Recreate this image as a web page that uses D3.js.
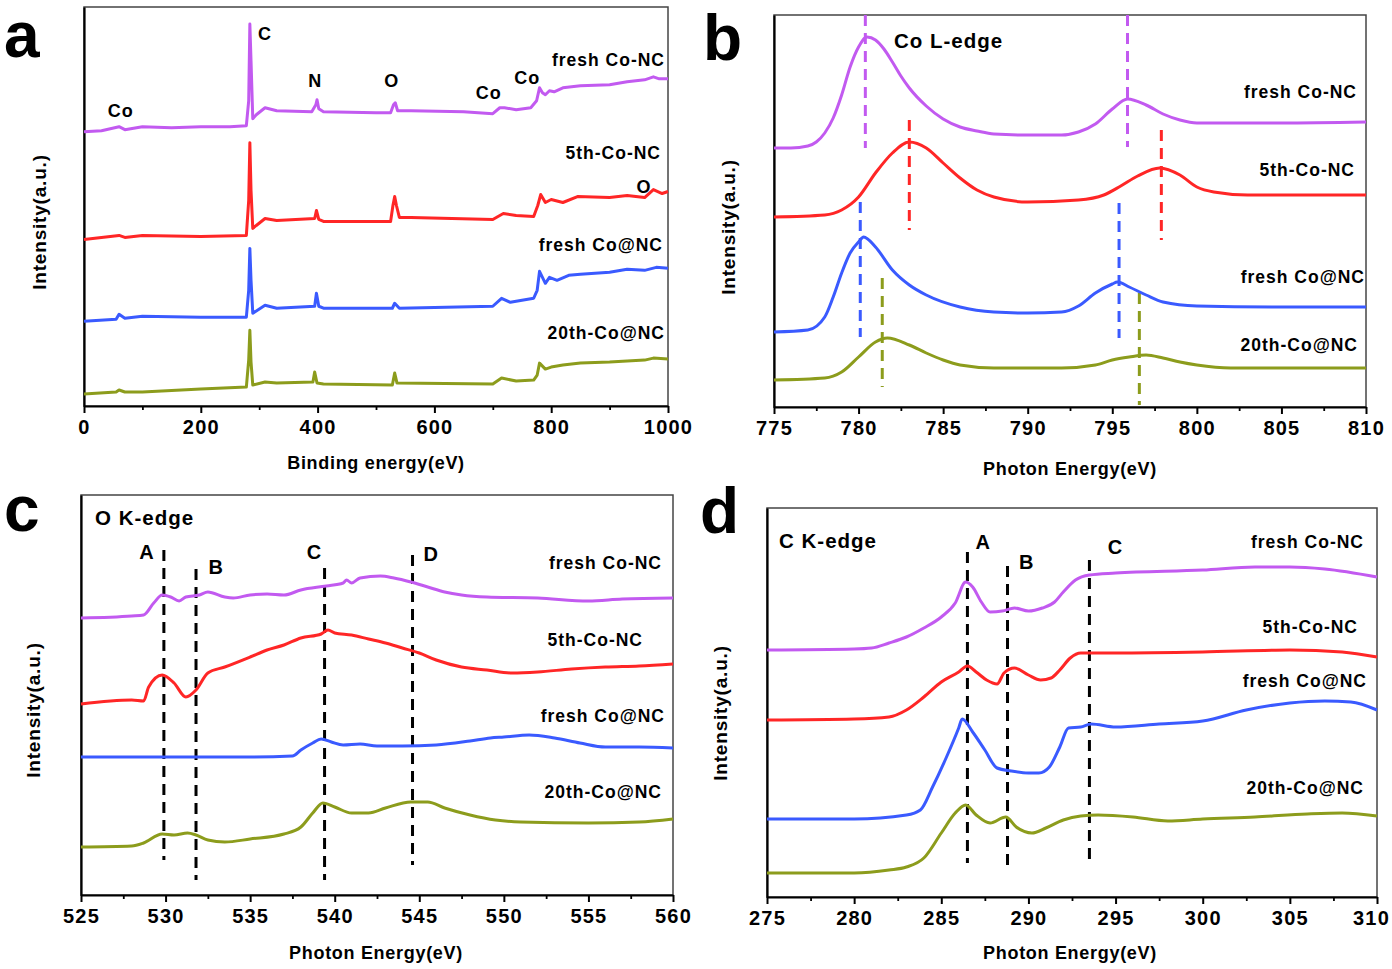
<!DOCTYPE html>
<html><head><meta charset="utf-8">
<script src="https://cdn.jsdelivr.net/npm/d3@7"></script>
<style>
html,body{margin:0;padding:0;background:#fff;}
svg{display:block;font-family:"Liberation Sans",Arial,sans-serif;font-weight:bold;}
</style></head>
<body>
<svg id="chart" width="1392" height="969"></svg>
<script>
// ---------------- DATA ----------------
const seriesNames = ["fresh Co-NC", "5th-Co-NC", "fresh Co@NC", "20th-Co@NC"];
const seriesColors = ["#c25af0", "#ff2626", "#3a5aff", "#8c9c1c"];

// Panel a: XPS survey, binding energy (eV) vs intensity (a.u., stacked)
const aTicks = [0, 200, 400, 600, 800, 1000];
const aMinor = [100, 300, 500, 700, 900];
const aFreshCoNC = [[0,275],[30,276],[60,280],[70,277],[100,280],[150,279],[200,280],[250,280],[278,281],[282,306],[284,383],[286,346],[289,288],[295,292],[310,299],[330,296],[390,295],[397,302],[399,307],[402,298],[410,295],[500,294],[525,294],[530,302],[533,304],[537,296],[560,296],[650,295],[700,293],[712,299],[720,299],[740,297],[765,299],[775,306],[780,319],[785,314],[790,312],[797,316],[805,315],[820,319],[850,321],[900,322],[930,325],[960,327],[975,330],[985,328],[1000,328]];
const a5thCoNC = [[0,167],[60,171],[70,169],[100,171],[200,170],[278,171],[282,206],[284,264],[286,216],[289,178],[295,181],[310,188],[330,186],[395,188],[398,196],[402,187],[410,185],[525,185],[529,201],[532,210],[535,201],[540,189],[560,189],[700,187],[718,193],[740,191],[770,190],[777,201],[782,212],[790,204],[800,207],[820,204],[845,210],[900,209],[930,211],[960,209],[975,217],[990,213],[1000,215]];
const aFreshCoNC2 = [[0,85],[55,87],[60,92],[70,88],[100,90],[200,89],[278,89],[282,116],[284,158],[286,126],[289,93],[310,101],[330,98],[395,100],[398,113],[402,100],[410,98],[528,98],[532,103],[540,98],[700,100],[715,108],[730,104],[770,108],[776,116],[780,135],[790,123],[797,129],[810,126],[830,131],[850,132],[900,134],[930,137],[960,136],[980,139],[1000,138]];
const a20thCoNC = [[0,12],[55,14],[60,16],[70,14],[100,14],[200,17],[278,19],[282,46],[284,76],[286,44],[289,21],[310,24],[330,23],[392,24],[395,34],[399,23],[410,22],[528,21],[532,33],[536,23],[700,22],[715,28],[740,25],[770,26],[776,31],[780,43],[790,37],[800,39],[820,41],[850,43],[900,44],[960,46],[975,48],[1000,47]];
const aPeakLabels = [["Co",63,296],["C",310,373],["N",396,326],["O",527,326],["Co",693,314],["Co",759,329],["O",959,220]];

// Panel b: Co L-edge
const bTicks = [775, 780, 785, 790, 795, 800, 805, 810];
const bMinor = [777.5, 782.5, 787.5, 792.5, 797.5, 802.5, 807.5];
const bFreshCoNC = [[775,259],[776,259],[777,261],[777.5,265],[778,274],[778.5,289],[779,312],[779.5,340],[780,360],[780.5,370],[781,367],[781.5,358],[782,345],[782.5,331],[783,319],[784,301],[785,288],[786,280],[787,276],[788,273],[790,272],[792,272],[793,275],[794,283],[795,298],[795.9,308],[797,302],[798,293],[799,287],[800,284],[802,284],[805,284],[810,285]];
const b5thCoNC = [[775,190],[778,192],[779,197],[780,210],[781,234],[782,254],[783,265],[784,259],[785,244],[786,229],[787,217],[788,210],[790,205],[793,207],[794.5,212],[795.5,221],[796.5,231],[797.8,239],[799,232],[800,220],[801,215],[803,212],[810,212]];
const bFreshCoNC2 = [[775,75],[777,77],[778,90],[778.5,110],[779,134],[779.5,154],[780,165],[780.3,170],[781,160],[782,137],[783,122],[784,112],[786,100],[788,95],[790,94],[792,95],[793,101],[794,114],[795,123],[795.3,125],[796,120],[797,112],[798,105],[800,101],[805,100],[810,100]];
const b20thCoNC = [[775,27],[778,29],[779,35],[780,50],[781,65],[781.7,69],[783,62],[784,54],[785,47],[786,42],[788,39],[792,39],[794,42],[795,47],[796,50],[797,52],[798,49],[799,45],[800,42],[802,39],[810,39]];
// peak markers: [energy, from, to, series index]
const bMarkers = [[780.4,392,259,0],[795.9,392,260,0],[783.0,287,177,1],[797.9,277,167,1],[780.1,205,70,2],[795.4,204,69,2],[781.4,129,20,3],[796.6,114,2,3]];

// Panel c: O K-edge
const cTicks = [525, 530, 535, 540, 545, 550, 555, 560];
const cMinor = [527.5, 532.5, 537.5, 542.5, 547.5, 552.5, 557.5];
const cFreshCoNC = [[525,277],[528,279],[528.7,280],[529.3,292],[529.8,300],[530.3,298],[530.8,294],[531.2,298],[532,300],[532.5,303],[533.5,298],[534,297],[535,300],[536,301],[537,300],[538,305],[539.5,309],[540.5,312],[540.7,315],[541,312],[541.5,317],[542.7,319],[543.5,317],[544.5,313],[545.5,308],[546.5,303],[547.5,300],[549,298],[552,297],[555,294],[557,296],[560,297]];
const c5thCoNC = [[525,191],[528,195],[528.7,194],[529,208],[529.8,220],[530.5,212],[531.2,198],[531.8,205],[532.5,222],[533.5,228],[535,238],[536,245],[537,250],[538,257],[539.2,261],[539.6,265],[540,262],[541,260],[542,256],[543,252],[544,247],[545,242],[546,235],[547.5,228],[549,225],[550.5,222],[552,223],[554,226],[556,228],[558,229],[560,231]];
const cFreshCoNC2 = [[525,138],[530,138],[535,138],[537.5,139],[538,145],[538.7,152],[539.2,156],[539.8,153],[540.5,150],[541.5,151],[542.5,149],[544,149],[546,150],[548,154],[549.2,157],[550,158],[551.5,160],[553,157],[554.5,152],[556,148],[558,148],[560,147]];
const c20thCoNC = [[525,48],[528,49],[528.7,52],[529.8,61],[530.5,60],[531.3,62],[531.8,60],[532.5,55],[533.5,53],[535,56],[537,61],[538,68],[538.7,82],[539.3,92],[540,88],[541,82],[542,82],[543,87],[544.5,93],[545.5,93],[546.5,87],[548,80],[549.5,75],[551,73],[555,72],[558,73],[560,76]];
const cGuides = [[529.9,345,35],[531.8,326,15],[539.4,327,15],[544.6,340,30]];
const cGuideLabels = [["A",528.9,343],["B",533.0,328],["C",538.8,343],["D",545.7,341]];

// Panel d: C K-edge
const dTicks = [275, 280, 285, 290, 295, 300, 305, 310];
const dMinor = [277.5, 282.5, 287.5, 292.5, 297.5, 302.5, 307.5];
const dFreshCoNC = [[275,247],[280,248],[281,249],[282,254],[283,260],[284,269],[285,280],[285.8,294],[286.4,315],[286.8,310],[287.3,295],[287.8,285],[288.5,286],[289.2,289],[290,286],[290.8,289],[291.5,295],[292,305],[292.7,317],[293.5,322],[295,324],[300,327],[303,330],[305,330],[307,328],[310,320]];
const d5thCoNC = [[275,177],[280,178],[282,180],[283,187],[284,200],[285,215],[286,225],[286.5,231],[287,225],[287.6,217],[288.2,213],[288.6,224],[289.2,229],[290,222],[290.7,217],[291.3,219],[291.8,227],[292.4,239],[293,244],[295,244],[300,245],[305,247],[308,245],[310,240]];
const dFreshCoNC2 = [[275,78],[280,78],[283,82],[283.8,87],[284.5,110],[285.3,140],[286,169],[286.2,178],[286.8,165],[287.5,147],[288.2,129],[289,126],[290,124],[290.6,124],[291.2,130],[291.8,150],[292.3,169],[293,170],[293.6,173],[295,170],[297.5,173],[300,176],[302.5,187],[305,194],[307,196],[308.5,195],[310,187]];
const d20thCoNC = [[275,24],[280,24],[282,27],[283,30],[284,39],[285,64],[285.8,84],[286.4,92],[287,82],[287.8,74],[288.7,80],[289.3,70],[290.2,64],[291,69],[292,77],[293,81],[294,82],[296,80],[298,76],[300,78],[303,80],[306,83],[308,84],[310,81]];
const dGuides = [[286.5,345,34],[288.8,331,30],[293.5,337,34]];
const dGuideLabels = [["A",287.4,355],["B",289.9,335],["C",295.0,350]];

// ---------------- DRAWING ----------------
const svg = d3.select("#chart");

function drawPanel(p) {
  const g = svg.append("g");
  const x = d3.scaleLinear().domain(p.xDomain).range([p.box[0], p.box[1]]);
  const y = d3.scaleLinear().domain(p.yDomain).range([p.box[3], p.box[2]]);

  // frame (top/right thinner)
  g.append("rect").attr("x", p.box[0]).attr("y", p.box[2])
    .attr("width", p.box[1]-p.box[0]).attr("height", p.box[3]-p.box[2])
    .attr("fill", "none").attr("stroke", "#444").attr("stroke-width", 1.5);

  // minor ticks
  const minor = g.append("g").attr("transform", `translate(0,${p.box[3]})`)
    .call(d3.axisBottom(x).tickValues(p.minor).tickSize(4).tickSizeOuter(0).tickFormat(""));
  minor.select(".domain").remove();
  minor.selectAll("line").attr("stroke", "#000").attr("stroke-width", 1.8);

  // major axis
  const ax = g.append("g").attr("transform", `translate(0,${p.box[3]})`)
    .call(d3.axisBottom(x).tickValues(p.ticks).tickSize(7).tickSizeOuter(0).tickPadding(7).tickFormat(d3.format("d")));
  ax.select(".domain").attr("stroke", "#000").attr("stroke-width", 2.2);
  ax.selectAll("line").attr("stroke", "#000").attr("stroke-width", 2);
  ax.selectAll("text").attr("font-size", 20).attr("font-weight", "bold")
    .attr("letter-spacing", 1.2)
    .attr("font-family", "Liberation Sans, Arial, sans-serif").attr("fill", "#000");
  if (p.lastTickShift) ax.selectAll("text").filter((d, i, n) => i === n.length - 1).attr("dx", p.lastTickShift);

  const ay = g.append("g").attr("transform", `translate(${p.box[0]},0)`)
    .call(d3.axisLeft(y).tickValues([]).tickSizeOuter(0));
  ay.select(".domain").attr("stroke", "#000").attr("stroke-width", 2.2);

  // guide lines (drawn under the curves)
  (p.guides || []).forEach(gd => {
    g.append("line").attr("x1", x(gd[0])).attr("x2", x(gd[0]))
      .attr("y1", y(gd[1])).attr("y2", y(gd[2]))
      .attr("stroke", gd[3] === undefined ? "#000" : seriesColors[gd[3]])
      .attr("stroke-width", 3).attr("stroke-dasharray", "11,7");
  });

  const line = d3.line().x(d => x(d[0])).y(d => y(d[1])).curve(p.curve || d3.curveMonotoneX);
  p.series.forEach((s, i) => {
    g.append("path").datum(s).attr("d", line).attr("fill", "none")
      .attr("stroke", seriesColors[i]).attr("stroke-width", 3).attr("stroke-linejoin", "round");
  });

  (p.guideLabels || []).forEach(t => {
    g.append("text").attr("x", x(t[1])).attr("y", y(t[2])).attr("text-anchor", "middle")
      .attr("dominant-baseline", "central").attr("font-size", p.annoSize || 20)
      .attr("letter-spacing", 1).text(t[0]);
  });

  // series labels
  p.labelPos.forEach((lp, i) => {
    g.append("text").attr("x", lp[0]).attr("y", lp[1]).attr("text-anchor", "end")
      .attr("dominant-baseline", "central").attr("font-size", 17.5)
      .attr("letter-spacing", 1).text(seriesNames[i]);
  });

  // axis titles
  g.append("text").attr("x", p.xTitle[0]).attr("y", p.xTitle[1]).attr("text-anchor", "middle")
    .attr("dominant-baseline", "central").attr("font-size", 18).attr("letter-spacing", 0.7).text(p.xTitle[2]);
  g.append("text").attr("transform", `translate(${p.yTitle[0]},${p.yTitle[1]}) rotate(-90)`)
    .attr("text-anchor", "middle").attr("dominant-baseline", "central").attr("font-size", 19)
    .attr("letter-spacing", 0.8).text("Intensity(a.u.)");

  // panel letter
  g.append("text").attr("x", p.letter[0]).attr("y", p.letter[1]).attr("font-size", 64).text(p.letter[2]);
  if (p.title) g.append("text").attr("x", p.title[0]).attr("y", p.title[1])
      .attr("dominant-baseline", "central").attr("font-size", 20.5).attr("letter-spacing", 1).text(p.title[2]);
}

drawPanel({
  box: [84, 668, 7, 406], xDomain: [0, 1000], yDomain: [0, 400],
  ticks: aTicks, minor: aMinor, curve: d3.curveLinear,
  series: [aFreshCoNC, a5thCoNC, aFreshCoNC2, a20thCoNC],
  guideLabels: aPeakLabels.map(d => [d[0], d[1], d[2]]), annoSize: 18,
  labelPos: [[665, 60], [661, 153], [663, 245], [665, 333]],
  xTitle: [376, 463, "Binding energy(eV)"], yTitle: [39, 222], letter: [4, 57, "a"]
});

drawPanel({
  box: [774, 1366, 15, 407], xDomain: [775, 810], yDomain: [0, 392],
  ticks: bTicks, minor: bMinor,
  series: [bFreshCoNC, b5thCoNC, bFreshCoNC2, b20thCoNC],
  guides: bMarkers,
  labelPos: [[1357, 92], [1355, 170], [1365, 277], [1358, 345]],
  xTitle: [1070, 469, "Photon Energy(eV)"], yTitle: [728, 227], letter: [703, 60, "b"],
  title: [894, 40, "Co L-edge"]
});

drawPanel({
  box: [81, 673, 495, 895], xDomain: [525, 560], yDomain: [0, 400],
  ticks: cTicks, minor: cMinor,
  series: [cFreshCoNC, c5thCoNC, cFreshCoNC2, c20thCoNC],
  guides: cGuides, guideLabels: cGuideLabels,
  labelPos: [[662, 563], [643, 640], [665, 716], [662, 792]],
  xTitle: [376, 953, "Photon Energy(eV)"], yTitle: [33, 710], letter: [4, 531, "c"],
  title: [95, 517, "O K-edge"]
});

drawPanel({
  box: [767, 1377, 508, 897], xDomain: [275, 310], yDomain: [0, 389],
  ticks: dTicks, minor: dMinor, lastTickShift: -6,
  series: [dFreshCoNC, d5thCoNC, dFreshCoNC2, d20thCoNC],
  guides: dGuides, guideLabels: dGuideLabels,
  labelPos: [[1364, 542], [1358, 627], [1367, 681], [1364, 788]],
  xTitle: [1070, 953, "Photon Energy(eV)"], yTitle: [720, 713], letter: [700, 533, "d"],
  title: [779, 540, "C K-edge"]
});
</script>
</body></html>
